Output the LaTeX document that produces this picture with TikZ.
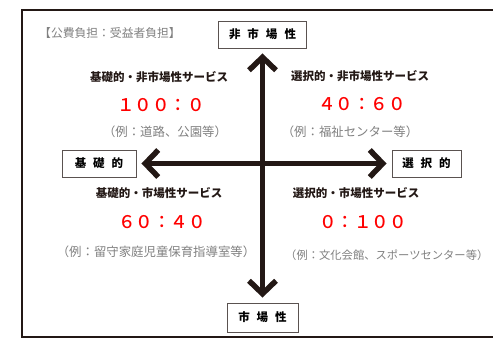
\documentclass[tikz,border=0pt]{standalone}
\usepackage{fontspec}
\setmainfont{Noto Sans CJK JP}
\newfontfamily\heavyjp{Noto Sans CJK JP Black}
\newfontfamily\mediumjp{Noto Sans CJK JP Medium}
\usepackage{tikz}
\usetikzlibrary{arrows.meta}

\definecolor{inkblack}{HTML}{231815}
\definecolor{notegray}{HTML}{808080}
\definecolor{ratiored}{HTML}{FF0000}

\begin{document}
\begin{tikzpicture}[x=1pt, y=-1pt,
    axisbox/.style={draw=inkblack!75, line width=0.9pt, minimum height=27pt, inner sep=0pt, font=\heavyjp\fontsize{11.5}{13}\selectfont},
    svchead/.style={font=\heavyjp\fontsize{11.5}{13}\selectfont, text=inkblack},
    ratio/.style={font=\mediumjp\fontsize{17.5}{19}\selectfont, text=ratiored},
    example/.style={font=\fontsize{12.4}{14}\selectfont, text=notegray},
    axis/.style={draw=inkblack, line width=5.5pt, {Straight Barb[length=13pt, width=27pt]}-{Straight Barb[length=13pt, width=27pt]}, shorten <=5pt, shorten >=5pt}]
    \useasboundingbox (0,0) rectangle (493,338);

    % Frame
    \draw[inkblack, line width=2pt] (21.5,10) rectangle (520,336.5);

    % Define nodes
    \node[axisbox, minimum width=88pt] (hishijo) at (262.5,34.5) {非\hspace{7pt}市\hspace{7pt}場\hspace{7pt}性};
    \node[axisbox, minimum width=71pt, minimum height=29pt] (shijo) at (262.5,317.5) {市\hspace{7pt}場\hspace{7pt}性};
    \node[axisbox, minimum width=74pt] (kiso) at (99,163.5) {基\hspace{7pt}礎\hspace{7pt}的};
    \node[axisbox, minimum width=69pt] (sentaku) at (426.5,163.5) {選\hspace{7pt}択\hspace{7pt}的};

    \node[example, font=\fontsize{11.8}{14}\selectfont] (futan) at (110,33) {【公費負担：受益者負担】};

    \node[svchead] (kisohi) at (159,77) {基礎的・非市場性サービス};
    \node[ratio] (kisohiR) at (161,105) {１００：０};
    \node[example] (kisohiE) at (165,132) {（例：道路、公園等）};

    \node[svchead] (senhi) at (360,76) {選択的・非市場性サービス};
    \node[ratio] (senhiR) at (362,104) {４０：６０};
    \node[example] (senhiE) at (350,132) {（例：福祉センター等）};

    \node[svchead] (kisoshi) at (159,193) {基礎的・市場性サービス};
    \node[ratio] (kisoshiR) at (162,222) {６０：４０};
    \node[example] (kisoshiE) at (156,252) {（例：留守家庭児童保育指導室等）};

    \node[svchead] (senshi) at (356,193) {選択的・市場性サービス};
    \node[ratio] (senshiR) at (363,222) {０：１００};
    \node[example, font=\fontsize{11.3}{13}\selectfont, anchor=west, inner sep=0pt] (senshiE) at (285,255) {（例：文化会館、スポーツセンター等）};

    % Draw arrows
    \draw[axis] (shijo) -- (hishijo);
    \draw[axis] (kiso) -- (sentaku);
\end{tikzpicture}
\end{document}
